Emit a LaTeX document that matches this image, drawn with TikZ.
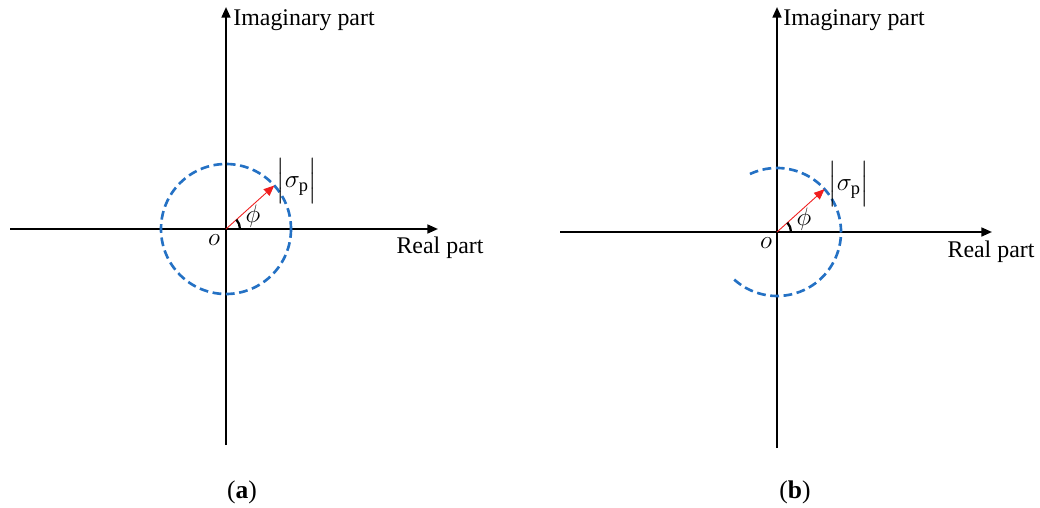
\documentclass[tikz,border=0pt]{standalone}
\usepackage{amsmath}
\usepackage{fontspec}
\setmainfont{Liberation Serif}
\usetikzlibrary{arrows.meta,calc}
\definecolor{circleblue}{RGB}{36, 113, 196}
\definecolor{vecred}{RGB}{240, 30, 30}

\tikzset{
  axis/.style={line width=1.2pt, -{Triangle[length=6pt, width=5pt]}},
  dashcircle/.style={circleblue, line width=1.5pt, dash pattern=on 5pt off 2.6pt},
  radvec/.style={vecred, line width=0.5pt, -{Triangle[length=6pt, width=5pt]}},
  anglemark/.style={line width=1.3pt},
  lbl/.style={font=\fontsize{13.6}{16}\selectfont, inner sep=0pt},
  mathlbl/.style={font=\fontsize{15}{18}\selectfont, inner sep=0pt},
  panelcap/.style={font=\fontsize{14.5}{17}\selectfont, inner sep=0pt}
}

\begin{document}
\begin{tikzpicture}[x=0.02cm, y=-0.02cm]
  \useasboundingbox (0,0) rectangle (1040,507);

  % Panel (a): full circle
  \coordinate (oA) at (226,229);
  \coordinate (leftA) at (10,229);
  \coordinate (rightA) at (438,229);
  \coordinate (botA) at (226,445);
  \coordinate (topA) at (226,7);
  \draw[axis] (leftA) -- (rightA);
  \draw[axis] (botA) -- (topA);
  \node[lbl, anchor=west] (imA) at (233,20) {Imaginary part};
  \node[lbl] (reA) at (440,248) {Real part};
  \node[mathlbl] (oa) at (214,240) {$o$};

  \draw[dashcircle] (oA) circle[radius=65];
  \draw[radvec] (oA) -- ++(-42:65) coordinate (tipA);
  \draw[anglemark] ($(oA)+(14,0)$) arc[start angle=0, end angle=-42, radius=14];
  \node[mathlbl] (phiA) at (253,216) {$\phi$};
  \node[mathlbl, anchor=west] (sigA) at (276,181) {$\Bigl|\sigma_{\mathrm{p}}\Bigr|$};

  \node[panelcap] (capA) at (242,492) {(\textbf{a})};

  % Panel (b): open arc
  \coordinate (oB) at (777,232);
  \coordinate (leftB) at (560,232);
  \coordinate (rightB) at (992,232);
  \coordinate (botB) at (777,448);
  \coordinate (topB) at (777,7);
  \draw[axis] (leftB) -- (rightB);
  \draw[axis] (botB) -- (topB);
  \node[lbl, anchor=west] (imB) at (783,20) {Imaginary part};
  \node[lbl] (reB) at (991,252) {Real part};
  \node[mathlbl] (ob) at (766,243) {$o$};

  \draw[dashcircle] ($(oB)+(-115:64)$) arc[start angle=-115, end angle=132, radius=64];
  \draw[radvec] (oB) -- ++(-42:64) coordinate (tipB);
  \draw[anglemark] ($(oB)+(14,0)$) arc[start angle=0, end angle=-42, radius=14];
  \node[mathlbl] (phiB) at (804,219) {$\phi$};
  \node[mathlbl, anchor=west] (sigB) at (828,184) {$\Bigl|\sigma_{\mathrm{p}}\Bigr|$};

  \node[panelcap] (capB) at (795,492) {(\textbf{b})};
\end{tikzpicture}
\end{document}
